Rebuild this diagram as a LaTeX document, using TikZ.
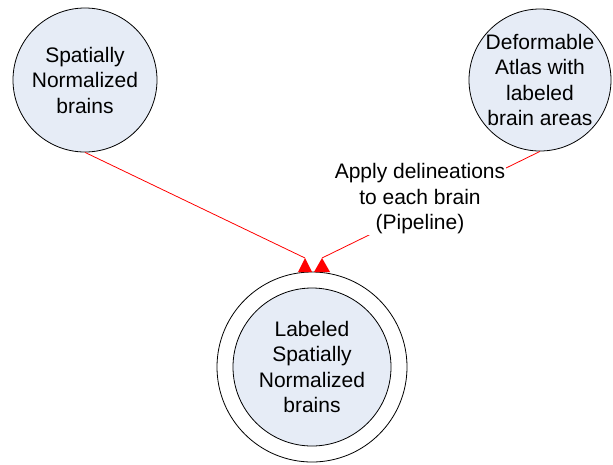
\documentclass[tikz,border=0pt]{standalone}
\usepackage{fontspec}
\setmainfont{Liberation Sans}
\definecolor{bubblefill}{HTML}{E6ECF6}
\begin{document}
\begin{tikzpicture}[x=1pt,y=-1pt,
  bubble/.style={circle,draw=black,line width=0.8pt,fill=bubblefill,inner sep=0pt,minimum size=#1},
  ring/.style={circle,draw=black,line width=0.8pt,fill=white,inner sep=0pt,minimum size=#1},
  caption/.style={align=center,inner sep=0pt,font=\fontsize{21}{25.5}\selectfont},
  link/.style={draw=red,line width=0.8pt},
  tiptri/.style={fill=red}]
\useasboundingbox (0,0) rectangle (613,464);

% source bubbles
\node[bubble=144] (norm) at (85,80) {};
\node[caption] (normtext) at (norm.center) {Spatially\\Normalized\\brains};

\node[bubble=142] (atlas) at (540,80) {};
\node[caption] (atlastext) at (atlas.center) {Deformable\\Atlas with\\labeled\\brain areas};

% result: double circle
\node[ring=190] (outer) at (312,367) {};
\node[bubble=158] (result) at (312,367) {};
\node[caption] (resulttext) at (result.center) {Labeled\\Spatially\\Normalized\\brains};

% arrow tips sitting on the outer ring
\coordinate (tipL) at (305,258);
\coordinate (tipR) at (322,258);
\fill[tiptri] (tipL) -- ++(-7,14) -- ++(14,0) -- cycle;
\fill[tiptri] (tipR) -- ++(-8,14) -- ++(16,0) -- cycle;

% connectors
\draw[link] (norm.south) -- (tipL);
\draw[link] (atlas.south) -- (tipR);
\node[caption,fill=white,inner sep=1pt] (pipe) at (420,199) {Apply delineations\\to each brain\\(Pipeline)};
\end{tikzpicture}
\end{document}
